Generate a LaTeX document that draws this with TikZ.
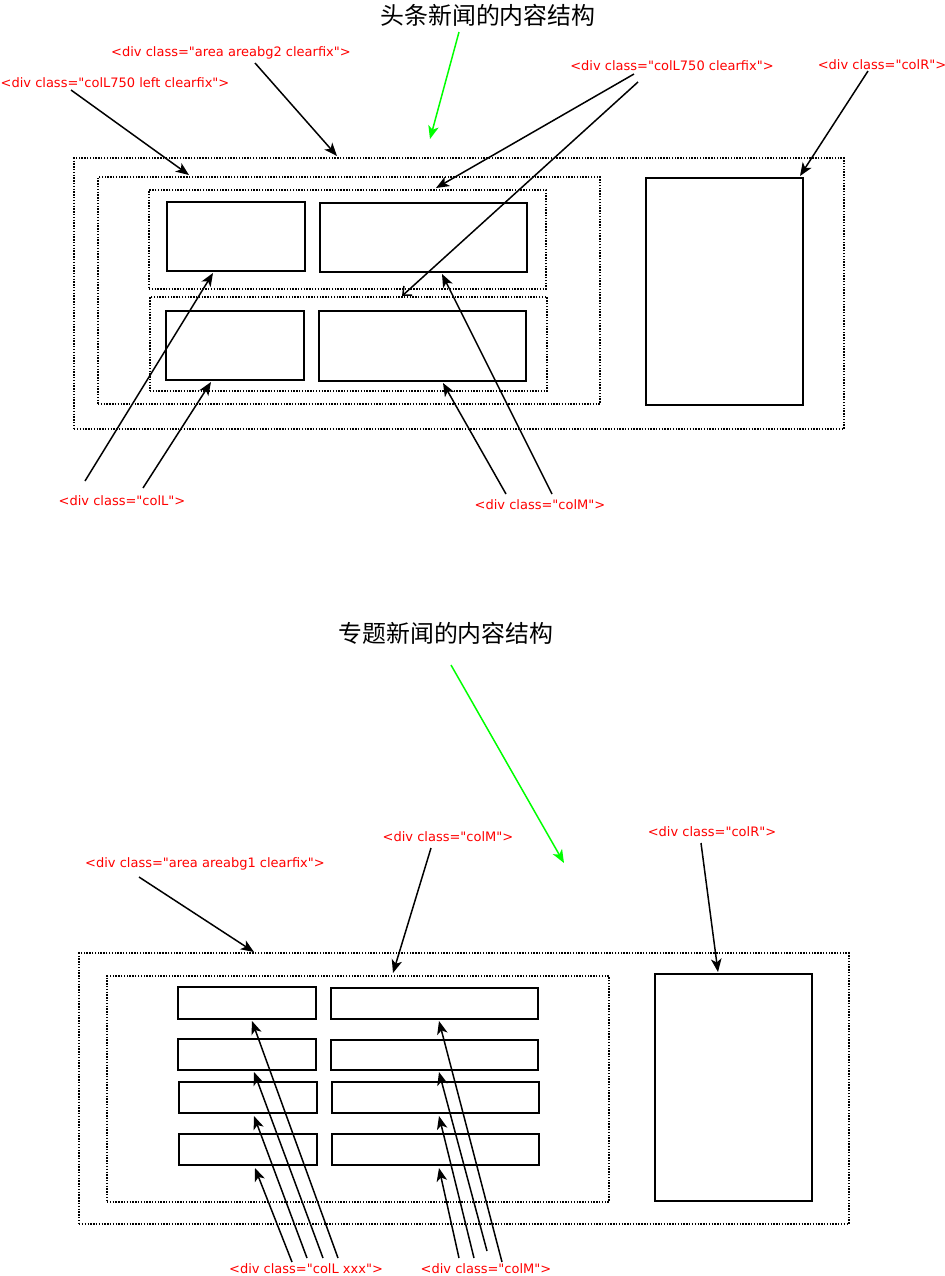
\documentclass[tikz,border=0pt]{standalone}
\usepackage{fontspec}
\usepackage{tikz}
\usetikzlibrary{arrows.meta}
\usetikzlibrary{positioning}
\newfontfamily\cjk{Noto Sans CJK SC}
\newfontfamily\divfont{DejaVu Sans}
\definecolor{tagred}{RGB}{255,0,0}
\definecolor{hintgreen}{RGB}{0,255,0}
\tikzset{>={Stealth[length=7.5pt,width=6pt,inset=2pt]}}
\tikzstyle{tag} = [inner sep=0pt, text=tagred, font=\divfont\fontsize{7.4}{9}\selectfont]
\tikzstyle{title} = [inner sep=0pt, font=\cjk\fontsize{13.6}{16}\selectfont]
\tikzstyle{dotbox} = [draw=black, inner sep=0pt, dash pattern=on 0.8pt off 0.8pt, line width=0.8pt]
\tikzstyle{solidbox} = [draw=black, inner sep=0pt, line width=0.9pt]
\tikzstyle{pointer} = [->, line width=0.85pt]
\tikzstyle{hint} = [->, line width=0.85pt, draw=hintgreen, color=hintgreen]

\begin{document}
\begin{tikzpicture}[x=0.02cm, y=-0.02cm]
\useasboundingbox (0, 0) rectangle (945, 1276);

% top: headline news
\node [title] (T1) at (488, 15) {头条新闻的内容结构};
\node [dotbox, minimum width=15.4cm, minimum height=5.42cm] (areaA) at (459, 293.5) {};
\node [dotbox, minimum width=10.04cm, minimum height=4.54cm] (leftA) at (349, 290.5) {};
\node [dotbox, minimum width=7.94cm, minimum height=1.98cm] (rowA1) at (347.5, 239.5) {};
\node [dotbox, minimum width=7.94cm, minimum height=1.88cm] (rowA2) at (348.5, 344) {};
\node [solidbox, minimum width=2.76cm, minimum height=1.38cm] (LA1) at (236, 236.5) {};
\node [solidbox, minimum width=4.14cm, minimum height=1.38cm] (MA1) at (423.5, 237.5) {};
\node [solidbox, minimum width=2.76cm, minimum height=1.38cm] (LA2) at (235, 345.5) {};
\node [solidbox, minimum width=4.14cm, minimum height=1.40cm] (MA2) at (422.5, 346) {};
\node [solidbox, minimum width=3.14cm, minimum height=4.54cm] (RA) at (724.5, 291.5) {};

\node [tag] (tArea2) at (231, 53) {<div class="area areabg2 clearfix">};
\node [tag] (tLeft) at (115, 83) {<div class="colL750 left clearfix">};
\node [tag] (tRow) at (672, 66) {<div class="colL750 clearfix">};
\node [tag] (tRA) at (882, 65) {<div class="colR">};
\node [tag] (tLA) at (122, 501) {<div class="colL">};
\node [tag] (tMA) at (540, 505) {<div class="colM">};

\coordinate (g1s) at (459, 32);   \coordinate (g1e) at (430, 139);
\coordinate (a2s) at (255, 63);   \coordinate (a2e) at (337, 156);
\coordinate (lfs) at (71, 90);    \coordinate (lfe) at (189, 175);
\coordinate (r1s) at (634, 74);   \coordinate (r1e) at (436, 188);
\coordinate (r2s) at (638, 82);   \coordinate (r2e) at (402, 296);
\coordinate (ras) at (868, 71);   \coordinate (rae) at (800, 176);
\coordinate (l1s) at (85, 481);   \coordinate (l1e) at (213, 273);
\coordinate (l2s) at (143, 488);  \coordinate (l2e) at (211, 382);
\coordinate (m2s) at (506, 494);  \coordinate (m2e) at (443, 383);
\coordinate (m1s) at (552, 494);  \coordinate (m1e) at (442, 274);

\draw [hint] (g1s) to (g1e);
\draw [pointer] (a2s) to (a2e);
\draw [pointer] (lfs) to (lfe);
\draw [pointer] (r1s) to (r1e);
\draw [line width=0.85pt, -{Straight Barb[length=4pt,width=7pt]}] (r2s) to (r2e);
\draw [pointer] (ras) to (rae);
\draw [pointer] (l1s) to (l1e);
\draw [pointer] (l2s) to (l2e);
\draw [pointer] (m2s) to (m2e);
\draw [pointer] (m1s) to (m1e);

% bottom: topic news
\node [title] (T2) at (446, 633) {专题新闻的内容结构};
\node [dotbox, minimum width=15.4cm, minimum height=5.42cm] (areaB) at (464, 1088.5) {};
\node [dotbox, minimum width=10.04cm, minimum height=4.52cm] (leftB) at (358, 1089) {};
\node [solidbox, minimum width=3.14cm, minimum height=4.54cm] (RB) at (733.5, 1087.5) {};
\node [solidbox, minimum width=2.76cm, minimum height=0.64cm] (LB1) at (247, 1003) {};
\node [solidbox, minimum width=2.76cm, minimum height=0.62cm] (LB2) at (247, 1054.5) {};
\node [solidbox, minimum width=2.76cm, minimum height=0.62cm] (LB3) at (248, 1097.5) {};
\node [solidbox, minimum width=2.76cm, minimum height=0.62cm] (LB4) at (248, 1149.5) {};
\node [solidbox, minimum width=4.14cm, minimum height=0.62cm] (MB1) at (434.5, 1003.5) {};
\node [solidbox, minimum width=4.14cm, minimum height=0.60cm] (MB2) at (434.5, 1055) {};
\node [solidbox, minimum width=4.14cm, minimum height=0.62cm] (MB3) at (435.5, 1097.5) {};
\node [solidbox, minimum width=4.14cm, minimum height=0.62cm] (MB4) at (435.5, 1149.5) {};

\node [tag] (tArea1) at (205, 864) {<div class="area areabg1 clearfix">};
\node [tag] (tMid) at (448, 837) {<div class="colM">};
\node [tag] (tRB) at (712, 832) {<div class="colR">};
\node [tag] (tLB) at (306, 1269) {<div class="colL xxx">};
\node [tag] (tMB) at (486, 1269) {<div class="colM">};

\coordinate (g2s) at (451, 665);  \coordinate (g2e) at (564, 863);
\coordinate (a1s) at (139, 877);  \coordinate (a1e) at (254, 952);
\coordinate (mds) at (431, 848);  \coordinate (mde) at (393, 973);
\coordinate (rbs) at (701, 843);  \coordinate (rbe) at (718, 972);
\coordinate (lb4s) at (292, 1262); \coordinate (lb4e) at (255, 1168);
\coordinate (lb3s) at (307, 1258); \coordinate (lb3e) at (254, 1116);
\coordinate (lb2s) at (323, 1258); \coordinate (lb2e) at (254, 1072);
\coordinate (lb1s) at (338, 1258); \coordinate (lb1e) at (252, 1021);
\coordinate (mb4s) at (459, 1258); \coordinate (mb4e) at (439, 1168);
\coordinate (mb3s) at (474, 1258); \coordinate (mb3e) at (439, 1116);
\coordinate (mb2s) at (487, 1251); \coordinate (mb2e) at (439, 1072);
\coordinate (mb1s) at (502, 1262); \coordinate (mb1e) at (439, 1021);

\draw [hint] (g2s) to (g2e);
\draw [pointer] (a1s) to (a1e);
\draw [pointer] (mds) to (mde);
\draw [pointer] (rbs) to (rbe);
\draw [pointer] (lb4s) to (lb4e);
\draw [pointer] (lb3s) to (lb3e);
\draw [pointer] (lb2s) to (lb2e);
\draw [pointer] (lb1s) to (lb1e);
\draw [pointer] (mb4s) to (mb4e);
\draw [pointer] (mb3s) to (mb3e);
\draw [pointer] (mb2s) to (mb2e);
\draw [pointer] (mb1s) to (mb1e);
\end{tikzpicture}
\end{document}
